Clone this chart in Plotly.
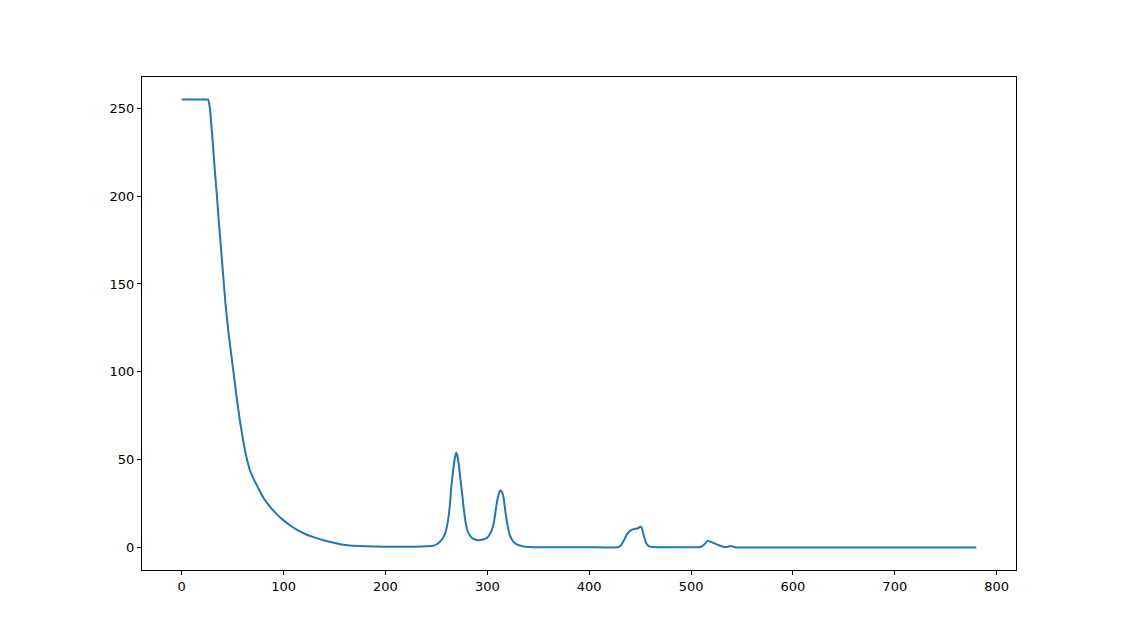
import plotly.graph_objects as go

x_vals = [0, 5, 10, 15, 20, 25, 26, 27, 28, 29, 30, 31, 32.7, 34.3, 36, 37.6, 39.2, 40.8, 43, 45.4, 48, 50.8,
          53.5, 56.9, 60, 63.5, 67, 71, 75, 80, 85, 90, 95, 100, 108, 115, 124, 130, 140, 150, 157, 165, 180,
          200, 220, 235, 240, 244, 247.4, 251, 253.9, 256.5, 258.8, 260.5, 262, 263.3, 264.4, 265.7, 267,
          268.3, 269.6, 270.9, 272.2, 273.7, 275.2, 276.5, 277.8, 279.2, 280.7, 282.8, 285, 288, 291.5,
          295.5, 299.7, 302.3, 304.6, 306.8, 308.8, 310, 311.1, 312.1, 313.1, 314.5, 316, 317.3, 318.6,
          320.2, 321.9, 324.5, 327.5, 331, 335.6, 340, 350, 400, 428, 431, 434, 437, 441, 445, 448, 450,
          451.5, 453.5, 456, 458.5, 462, 470, 500, 507, 510, 513, 516, 520, 524, 528, 532, 535, 538, 541,
          544, 548, 600, 700, 780]
y_vals = [255, 255, 255, 255, 255, 255, 255, 252.5, 248, 241, 234, 226, 213, 202, 188.5, 177, 165.7, 154,
          138.5, 125, 112.5, 100, 87.5, 73, 62, 51.5, 44, 38.5, 34, 28.5, 24.5, 21, 18, 15.5, 12, 9.5, 7,
          5.8, 4, 2.6, 1.7, 1.2, 0.8, 0.5, 0.5, 0.6, 0.7, 0.9, 1.1, 2.2, 3.6, 5.5, 8.4, 12.5, 17.8, 24.5,
          33, 40, 46.3, 51.5, 53.9, 51.5, 46.3, 38.5, 31.1, 24, 17.8, 12.8, 9.3, 7, 5.5, 4.6, 4.2, 4.6, 5.5,
          7.5, 10.2, 15.5, 23.5, 27.5, 30.2, 32, 32.6, 31.5, 28.3, 22.5, 16.9, 11.5, 7.4, 4.2, 2.3, 1.3,
          0.7, 0.3, 0.2, 0.2, 0.2, 1.2, 4, 7.5, 10, 10.6, 11, 11.8, 11.4, 7, 2.5, 0.8, 0.3, 0.2, 0.2, 0.2,
          0.5, 1.8, 3.8, 3.2, 2.1, 1.2, 0.4, 0.3, 0.9, 0.6, 0.1, 0.1, 0.1, 0.1, 0.1]

xticks = [0, 100, 200, 300, 400, 500, 600, 700, 800]
yticks = [0, 50, 100, 150, 200, 250]

fig = go.Figure()
fig.add_trace(go.Scatter(x=x_vals, y=y_vals, mode="lines", line_shape="spline",
                         line=dict(color="#1f77b4", width=2, smoothing=0.4), showlegend=False))

axis_common = dict(showgrid=False, zeroline=False, showline=True, linecolor="black", linewidth=1,
                   mirror=True, ticks="outside", ticklen=4, tickcolor="black", tickwidth=1,
                   tickfont=dict(family="DejaVu Sans", size=13, color="black"))
fig.update_xaxes(range=[-39, 819], tickvals=xticks, ticktext=[str(t) for t in xticks], **axis_common)
fig.update_yaxes(range=[-12.75, 267.75], tickvals=yticks, ticktext=[str(t) for t in yticks], **axis_common)

fig.update_layout(width=1112, height=625, margin=dict(l=134, r=104, t=69, b=63),
                  plot_bgcolor="white", paper_bgcolor="white")
fig.write_html("out.html")
